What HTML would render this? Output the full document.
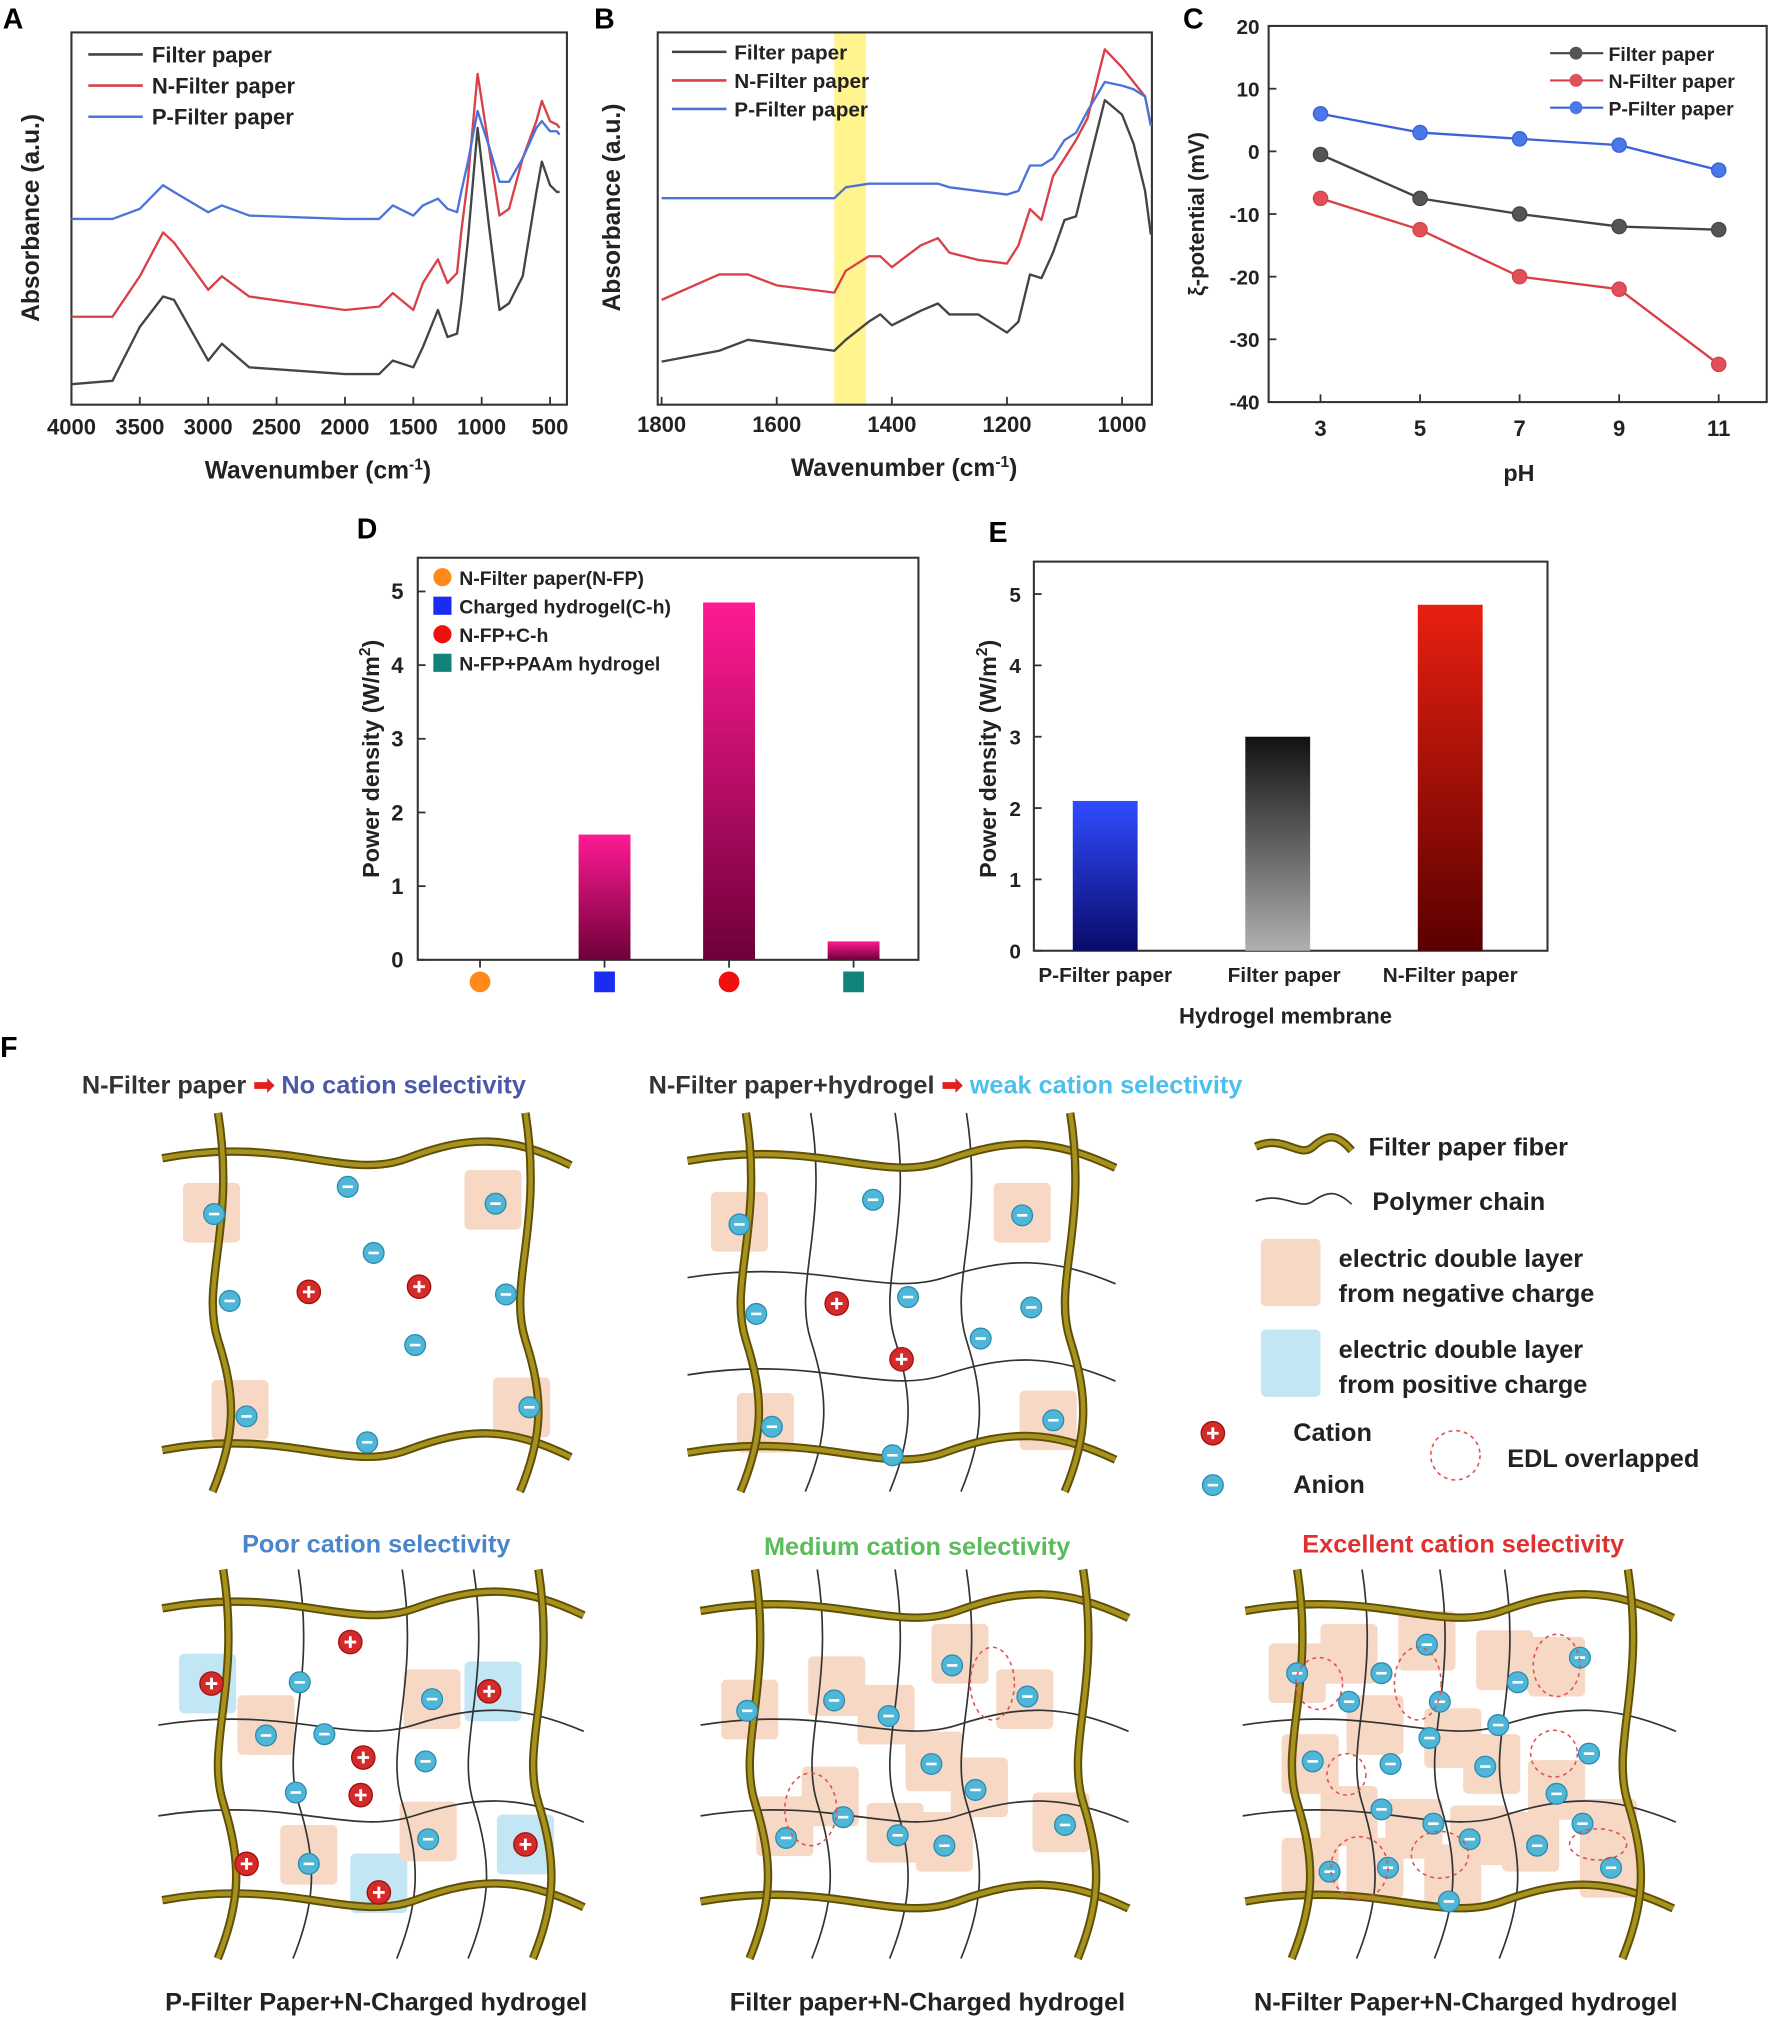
<!DOCTYPE html>
<html><head><meta charset="utf-8"><style>
html,body{margin:0;padding:0;background:#fff;}
svg{display:block;font-family:"Liberation Sans",Arial,sans-serif;font-weight:bold;}
</style></head><body>
<svg id="fig" width="1772" height="2026" viewBox="0 0 1366 1562" xmlns="http://www.w3.org/2000/svg">
<defs>
<linearGradient id="gMag" x1="0" y1="0" x2="0" y2="1"><stop offset="0" stop-color="#ff1a94"/><stop offset="1" stop-color="#6e0038"/></linearGradient>
<linearGradient id="gBlue" x1="0" y1="0" x2="0" y2="1"><stop offset="0" stop-color="#2f4cff"/><stop offset="1" stop-color="#0a0a6a"/></linearGradient>
<linearGradient id="gGray" x1="0" y1="0" x2="0" y2="1"><stop offset="0" stop-color="#111"/><stop offset="1" stop-color="#b0b0b0"/></linearGradient>
<linearGradient id="gRed" x1="0" y1="0" x2="0" y2="1"><stop offset="0" stop-color="#e82010"/><stop offset="1" stop-color="#5a0000"/></linearGradient>
</defs>
<g id="root"></g>
</svg>
<script>
// ---------- DATA ----------
const specAWave=[4000,3700,3500,3330,3250,3000,2900,2700,2000,1750,1650,1500,1430,1320,1250,1180,1150,1100,1030,950,870,800,700,600,560,500,450,430];
const specABlack=[3,4,20,29,28,10,15,8,6,6,10,8,14,25,17,18,27,46,79,51,25,27,35,60,69,62,60,60];
const specARed=[23,23,35,48,45,31,35,29,25,26,30,25,33,40,33,36,48,64,95,74,53,55,70,81,87,81,80,79];
const specABlue=[52,52,55,62,60,54,56,53,52,52,56,53,56,58,55,54,60,69,84,74,63,63,70,79,81,78,78,77];
const specBWave=[1800,1700,1650,1600,1500,1480,1440,1420,1400,1350,1320,1300,1250,1200,1180,1160,1140,1120,1100,1080,1060,1030,1000,980,960,950];
const specBBlack=[9,12,15,14,12,15,20,22,19,23,25,22,22,17,20,33,32,39,48,49,62,81,77,69,56,44];
const specBRed=[26,33,33,30,28,34,38,38,35,41,43,39,37,36,41,51,48,60,65,70,76,95,90,86,82,74];
const specBBlue=[54,54,54,54,54,57,58,58,58,58,58,57,56,55,56,63,63,65,70,72,78,86,85,84,82,74];
const pHvals=[3,5,7,9,11];
const zetaFilter=[-0.5,-7.5,-10,-12,-12.5];
const zetaN=[-7.5,-12.5,-20,-22,-34];
const zetaP=[6,3,2,1,-3];
const dCats=["N-Filter paper(N-FP)","Charged hydrogel(C-h)","N-FP+C-h","N-FP+PAAm hydrogel"];
const dVals=[0,1.7,4.85,0.25];
const dTicks=[0,1,2,3,4,5];
const eCats=["P-Filter paper","Filter paper","N-Filter paper"];
const eVals=[2.1,3.0,4.85];
const eTicks=[0,1,2,3,4,5];
const cTicks=[20,10,0,-10,-20,-30,-40];

// ---------- helpers ----------
const NS="http://www.w3.org/2000/svg";
const root=document.getElementById('root');
function mk(tag,attrs,parent){const e=document.createElementNS(NS,tag);for(const k in attrs)e.setAttribute(k,attrs[k]);(parent||root).appendChild(e);return e;}
function txt(x,y,s,size,opts){opts=opts||{};const e=mk('text',{x:x,y:y,'font-size':size,fill:opts.fill||'#222','text-anchor':opts.anchor||'start'},opts.parent);if(opts.rot)e.setAttribute('transform','rotate(-90 '+x+' '+y+')');e.textContent=s;return e;}
function frame(x0,y0,x1,y1,name){const r=mk('rect',{x:x0,y:y0,width:x1-x0,height:y1-y0,fill:'none',stroke:'#333','stroke-width':1.6});}
function label(s,x,y){const t=txt(x,y,s,22,{fill:'#000'});}

// ---------- Panel A ----------
(function(){
const xA=w=>55+(4000-w)/3500*369;
const yA=v=>304-v*2.6;
label('A',2,22);
frame(55,25,437,312,'panel-a-frame');
[4000,3500,3000,2500,2000,1500,1000,500].forEach(w=>{mk('line',{x1:xA(w),x2:xA(w),y1:312,y2:306,stroke:'#333','stroke-width':1.4});const t=txt(xA(w),335,String(w),17,{anchor:'middle'});});
let t=txt(245,369,'',19,{anchor:'middle'});
t.innerHTML='Wavenumber (cm<tspan dy="-7" font-size="12">-1</tspan><tspan dy="7">)</tspan>';
t=txt(30,168,'Absorbance (a.u.)',19,{rot:1,anchor:'middle'});
[[specABlack,'#444','Filter paper'],[specARed,'#d8404a','N-Filter paper'],[specABlue,'#4c74d8','P-Filter paper']].forEach((s,i)=>{
 const p=mk('polyline',{points:specAWave.map((w,j)=>xA(w)+','+yA(s[0][j])).join(' '),fill:'none',stroke:s[1],'stroke-width':1.8,'stroke-linejoin':'round'});
 
 const ly=42+i*24;mk('line',{x1:68,x2:110,y1:ly,y2:ly,stroke:s[1],'stroke-width':2});
 const lt=txt(117,ly+6,s[2],17);
});
})();

// ---------- Panel B ----------
(function(){
const xB=w=>510+(1800-w)/800*355;
const yB=v=>304-v*2.8;
label('B',458,22);
mk('rect',{x:xB(1500),y:25,width:xB(1445)-xB(1500),height:287,fill:'#fff27a',opacity:0.85});
frame(507,25,888,312,'panel-b-frame');
[1800,1600,1400,1200,1000].forEach(w=>{mk('line',{x1:xB(w),x2:xB(w),y1:312,y2:306,stroke:'#333','stroke-width':1.4});const t=txt(xB(w),333,String(w),17,{anchor:'middle'});});
let t=txt(697,367,'',19,{anchor:'middle'});t.innerHTML='Wavenumber (cm<tspan dy="-7" font-size="12">-1</tspan><tspan dy="7">)</tspan>';
t=txt(478,160,'Absorbance (a.u.)',19,{rot:1,anchor:'middle'});
[[specBBlack,'#444','Filter paper'],[specBRed,'#d8404a','N-Filter paper'],[specBBlue,'#4c74d8','P-Filter paper']].forEach((s,i)=>{
 const p=mk('polyline',{points:specBWave.map((w,j)=>xB(w)+','+yB(s[0][j])).join(' '),fill:'none',stroke:s[1],'stroke-width':1.8,'stroke-linejoin':'round'});
 
 const ly=40+i*22;mk('line',{x1:518,x2:560,y1:ly,y2:ly,stroke:s[1],'stroke-width':2});
 const lt=txt(566,ly+6,s[2],16);
});
})();

// ---------- Panel C ----------
(function(){
const xC=p=>1018+(p-3)/8*307;
const yC=v=>116.7-v*4.83;
label('C',912,22);
frame(978,20,1362,310,'panel-c-frame');
cTicks.forEach(v=>{mk('line',{x1:978,x2:984,y1:yC(v),y2:yC(v),stroke:'#333','stroke-width':1.4});const t=txt(971,yC(v)+6,String(v),16,{anchor:'end'});});
pHvals.forEach(p=>{mk('line',{x1:xC(p),x2:xC(p),y1:310,y2:304,stroke:'#333','stroke-width':1.4});const t=txt(xC(p),336,String(p),17,{anchor:'middle'});});
let t=txt(1171,371,'pH',18,{anchor:'middle'});
t=txt(928,165,'ξ-potential (mV)',17,{rot:1,anchor:'middle'});
[[zetaFilter,'#444','#555','Filter paper'],[zetaN,'#d84048','#e05058','N-Filter paper'],[zetaP,'#3c62d8','#4a78e8','P-Filter paper']].forEach((s,i)=>{
 const p=mk('polyline',{points:pHvals.map((q,j)=>xC(q)+','+yC(s[0][j])).join(' '),fill:'none',stroke:s[1],'stroke-width':1.8});
 
 pHvals.forEach((q,j)=>{const c=mk('circle',{cx:xC(q),cy:yC(s[0][j]),r:5.5,fill:s[2],stroke:s[1],'stroke-width':1});});
 const ly=41+i*21;mk('line',{x1:1195,x2:1236,y1:ly,y2:ly,stroke:s[1],'stroke-width':1.6});mk('circle',{cx:1215,cy:ly,r:5,fill:s[2]});
 const lt=txt(1240,ly+6,s[3],15);
});
})();

// ---------- Panel D ----------
(function(){
const yD=v=>740-v*56.8;
const xD=i=>370+i*96;
label('D',275,415);
frame(322,430,708,740,'panel-d-frame');
dTicks.forEach(v=>{mk('line',{x1:322,x2:328,y1:yD(v),y2:yD(v),stroke:'#333','stroke-width':1.4});const t=txt(311,yD(v)+6,String(v),17,{anchor:'end'});});
dVals.forEach((v,i)=>{if(v>0){const r=mk('rect',{x:xD(i)-20,y:yD(v),width:40,height:740-yD(v),fill:'url(#gMag)'});}
 mk('line',{x1:xD(i),x2:xD(i),y1:740,y2:746,stroke:'#333','stroke-width':1.4});});
let t=txt(292,585,'',18,{rot:1,anchor:'middle'});t.innerHTML='Power density (W/m<tspan dy="-7" font-size="12">2</tspan><tspan dy="7">)</tspan>';
const mark=(k,x,y,s)=>{if(k==0)mk('circle',{cx:x,cy:y,r:s,fill:'#ff8a1a'});if(k==1)mk('rect',{x:x-s,y:y-s,width:2*s,height:2*s,fill:'#1a2cf0'});if(k==2)mk('circle',{cx:x,cy:y,r:s,fill:'#f01010'});if(k==3)mk('rect',{x:x-s,y:y-s,width:2*s,height:2*s,fill:'#10847a'});};
dCats.forEach((c,i)=>{mark(i,xD(i),757,8);mark(i,341,445+i*22,7);const lt=txt(354,451+i*22,c,15);});
})();

// ---------- Panel E ----------
(function(){
const yE=v=>733-v*55;
const xE=i=>852+i*133;
const fills=['url(#gBlue)','url(#gGray)','url(#gRed)'];
label('E',762,418);
frame(797,433,1193,733,'panel-e-frame');
eTicks.forEach(v=>{mk('line',{x1:797,x2:803,y1:yE(v),y2:yE(v),stroke:'#333','stroke-width':1.4});const t=txt(787,yE(v)+6,String(v),16,{anchor:'end'});});
eVals.forEach((v,i)=>{const r=mk('rect',{x:xE(i)-25,y:yE(v),width:50,height:733-yE(v),fill:fills[i]});
 const t=txt(xE(i)+(i==1?5:0),757,eCats[i],16,{anchor:'middle'});});
let t=txt(991,789,'Hydrogel membrane',17,{anchor:'middle'});
t=txt(768,585,'',18,{rot:1,anchor:'middle'});t.innerHTML='Power density (W/m<tspan dy="-7" font-size="12">2</tspan><tspan dy="7">)</tspan>';
})();

// ---------- Panel F (schematic) ----------
label('F',0,815);
function hfib(x0,x1,y,amp,thin){const w=x1-x0;const d='M'+x0+','+y+' C'+(x0+w*0.3)+','+(y-amp)+' '+(x0+w*0.45)+','+(y+amp)+' '+(x0+w*0.6)+','+y+' S'+(x0+w*0.85)+','+(y-amp)+' '+x1+','+(y+amp*0.3);
 if(thin){mk('path',{d:d,fill:'none',stroke:'#333','stroke-width':1.3});}else{mk('path',{d:d,fill:'none',stroke:'#5e4e08','stroke-width':6.5});mk('path',{d:d,fill:'none',stroke:'#a8921e','stroke-width':3.5});}}
function vfib(x,y0,y1,amp,thin){const h=y1-y0;const d='M'+x+','+y0+' C'+(x+amp)+','+(y0+h*0.3)+' '+(x-amp)+','+(y0+h*0.45)+' '+x+','+(y0+h*0.6)+' S'+(x+amp)+','+(y0+h*0.85)+' '+(x-amp*0.3)+','+y1;
 if(thin){mk('path',{d:d,fill:'none',stroke:'#333','stroke-width':1.3});}else{mk('path',{d:d,fill:'none',stroke:'#5e4e08','stroke-width':6.5});mk('path',{d:d,fill:'none',stroke:'#a8921e','stroke-width':3.5});}}
function sq(x,y,c){mk('rect',{x:x-22,y:y-23,width:44,height:46,rx:4,fill:c||'#f6d8c4'});}
function anion(x,y){const g=mk('g',{});mk('circle',{cx:x,cy:y,r:8,fill:'#4fb6d8',stroke:'#2a8cb0','stroke-width':1},g);mk('line',{x1:x-4,x2:x+4,y1:y,y2:y,stroke:'#fff','stroke-width':2},g);}
function cation(x,y){const g=mk('g',{});mk('circle',{cx:x,cy:y,r:9,fill:'#d42a2a',stroke:'#a01010','stroke-width':1},g);mk('path',{d:'M'+(x-4.5)+','+y+' H'+(x+4.5)+' M'+x+','+(y-4.5)+' V'+(y+4.5),stroke:'#fff','stroke-width':2.2},g);}
function edl(x,y,rx,ry){mk('ellipse',{cx:x,cy:y,rx:rx,ry:ry||rx,fill:'none',stroke:'#e05050','stroke-width':1.2,'stroke-dasharray':'3,3'});}
function title(x,y,parts,anchor){const t=txt(x,y,'',19.5,{anchor:anchor||'start'});parts.forEach(p=>{const s=document.createElementNS(NS,'tspan');s.setAttribute('fill',p[1]);s.textContent=p[0];t.appendChild(s);});return t;}

title(63,843,[['N-Filter paper ','#333'],['➡ ','#e02020'],['No cation selectivity','#4a5aa8']]);
title(500,843,[['N-Filter paper+hydrogel ','#333'],['➡ ','#e02020'],['weak cation selectivity','#4cc0ea']]);
title(290,1197,[['Poor cation selectivity','#4a86cc']],'middle');
title(707,1199,[['Medium cation selectivity','#5cbc5c']],'middle');
title(1128,1197,[['Excellent cation selectivity','#e03030']],'middle');
[['P-Filter Paper+N-Charged hydrogel',290],['Filter paper+N-Charged hydrogel',715],['N-Filter Paper+N-Charged hydrogel',1130]].forEach(a=>{const t=txt(a[1],1550,a[0],19.5,{anchor:'middle'});});

[[163,935],[380,925],[185,1087],[402,1085]].forEach(p=>sq(p[0],p[1]));
hfib(125,440,893,18);hfib(125,440,1118,18);vfib(168,858,1150,14);vfib(405,858,1150,14);
[[268,915],[165,936],[288,966],[177,1003],[390,998],[320,1037],[190,1092],[408,1085],[283,1112],[382,928]].forEach(p=>anion(p[0],p[1]));
[[238,996],[323,992]].forEach(p=>cation(p[0],p[1]));

[[570,942],[788,935],[590,1097],[808,1095]].forEach(p=>sq(p[0],p[1]));
[625,690,745].forEach(x=>vfib(x,858,1150,14,1));[985,1060].forEach(y=>hfib(530,860,y,16,1));
hfib(530,860,895,18);hfib(530,860,1120,18);vfib(575,858,1150,14);vfib(825,858,1150,14);
[[673,925],[570,944],[788,937],[700,1000],[583,1013],[795,1008],[756,1032],[595,1100],[812,1095],[688,1122]].forEach(p=>anion(p[0],p[1]));
[[645,1005],[695,1048]].forEach(p=>cation(p[0],p[1]));

(function(){
hfib(968,1042,884,10);
let t=txt(1055,891,'Filter paper fiber',19.5);
hfib(968,1042,926,8,1);
t=txt(1058,933,'Polymer chain',19.5);
mk('rect',{x:972,y:955,width:46,height:52,rx:4,fill:'#f6d8c4'});
t=txt(1032,977,'electric double layer',19.5);txt(1032,1004,'from negative charge',19.5);
mk('rect',{x:972,y:1025,width:46,height:52,rx:4,fill:'#c2e6f4'});
t=txt(1032,1047,'electric double layer',19.5);txt(1032,1074,'from positive charge',19.5);
cation(935,1105);txt(997,1111,'Cation',19.5);
anion(935,1145);txt(997,1151,'Anion',19.5);
edl(1122,1122,19);txt(1162,1131,'EDL overlapped',19.5);
})();

[[160,1298,'#c2e6f4'],[380,1304,'#c2e6f4'],[405,1422,'#c2e6f4'],[292,1452,'#c2e6f4'],[205,1330],[333,1310],[330,1412],[238,1430]].forEach(p=>sq(p[0],p[1],p[2]));
[230,310,365].forEach(x=>vfib(x,1210,1510,14,1));[1330,1400].forEach(y=>hfib(122,450,y,16,1));
hfib(125,450,1240,18);hfib(125,450,1465,18);vfib(172,1210,1510,14);vfib(415,1210,1510,14);
[[231,1297],[205,1338],[250,1337],[333,1310],[328,1358],[228,1382],[238,1437],[330,1418]].forEach(p=>anion(p[0],p[1]));
[[270,1266],[163,1298],[377,1304],[280,1355],[278,1384],[190,1437],[405,1422],[292,1459]].forEach(p=>cation(p[0],p[1]));

[[578,1318],[645,1300],[683,1322],[740,1275],[720,1358],[755,1378],[605,1408],[640,1385],[690,1413],[728,1420],[818,1405],[790,1310]].forEach(p=>sq(p[0],p[1]));
[630,690,745].forEach(x=>vfib(x,1210,1510,14,1));[1330,1400].forEach(y=>hfib(540,870,y,16,1));
hfib(540,870,1242,18);hfib(540,870,1466,18);vfib(582,1210,1510,14);vfib(835,1210,1510,14);
[[576,1319],[643,1311],[685,1323],[734,1284],[792,1308],[718,1360],[752,1380],[606,1417],[650,1401],[692,1415],[728,1423],[821,1407]].forEach(p=>anion(p[0],p[1]));
edl(765,1298,17,28);edl(625,1395,20,28);

[[1000,1290],[1040,1275],[1100,1265],[1160,1280],[1200,1285],[1010,1360],[1060,1330],[1120,1340],[1150,1360],[1200,1380],[1040,1400],[1090,1410],[1140,1415],[1180,1420],[1240,1410],[1010,1440],[1060,1440],[1120,1445],[1240,1440]].forEach(p=>sq(p[0],p[1]));
[1050,1110,1160].forEach(x=>vfib(x,1210,1510,14,1));[1330,1400].forEach(y=>hfib(958,1292,y,16,1));
hfib(960,1290,1242,18);hfib(960,1290,1466,18);vfib(1000,1210,1510,14);vfib(1255,1210,1510,14);
[[1000,1290],[1040,1312],[1065,1290],[1100,1268],[1110,1312],[1170,1297],[1218,1278],[1012,1358],[1072,1360],[1102,1340],[1155,1330],[1145,1362],[1200,1383],[1225,1352],[1065,1395],[1105,1406],[1133,1418],[1185,1423],[1220,1406],[1025,1443],[1070,1440],[1242,1440],[1117,1466]].forEach(p=>anion(p[0],p[1]));
edl(1017,1298,18,20);edl(1093,1298,18,28);edl(1200,1284,18,24);edl(1038,1368,15,16);edl(1198,1352,18,18);edl(1048,1440,22,24);edl(1110,1430,22,18);edl(1232,1422,22,12);
</script>
</body></html>
